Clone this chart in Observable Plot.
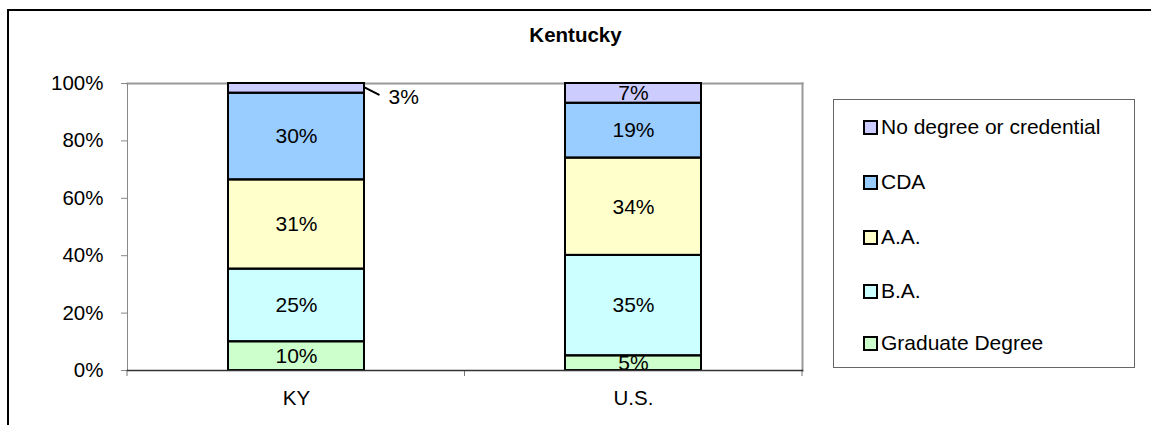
<!DOCTYPE html>
<html>
<head>
<meta charset="utf-8">
<script src="https://cdn.jsdelivr.net/npm/d3@7"></script>
<script src="https://cdn.jsdelivr.net/npm/@observablehq/plot@0.6"></script>
<style>
  html, body { margin: 0; padding: 0; background: #fff; }
  #wrap { position: relative; width: 1151px; height: 425px; overflow: hidden; font-family: "Liberation Sans", Arial, sans-serif; }
  #frame { position: absolute; left: 7px; top: 9px; width: 1300px; height: 600px; border: 2px solid #000; box-sizing: border-box; }
  #title { position: absolute; left: 0; width: 1151px; top: 22px; text-align: center; font-weight: bold; font-size: 20.5px; line-height: 26px; color: #000; }
  #chart { position: absolute; left: 0; top: 0; }
  #legend { position: absolute; left: 833px; top: 99px; width: 302px; height: 269px; border: 1px solid #666; box-sizing: border-box; }
  .item { position: absolute; left: 29px; height: 24px; display: flex; align-items: center; font-size: 21px; color: #000; white-space: nowrap; }
  .sw { width: 11px; height: 11px; border: 2px solid #000; margin-right: 3px; }
</style>
</head>
<body>
<div id="wrap">
  <div id="frame"></div>
  <div id="chart"></div>
  <div id="title">Kentucky</div>
  <div id="legend"></div>
</div>
<script>
const categories = ["KY", "U.S."];
const series = ["Graduate Degree", "B.A.", "A.A.", "CDA", "No degree or credential"];
const valuesKY = [10.0, 25.3, 31.1, 30.2, 3.4];
const valuesUS = [5.1, 35.0, 33.9, 19.1, 6.9];
const colors = ["#CCFFCC", "#CCFFFF", "#FFFFCC", "#99CCFF", "#CCCCFF"];
const yTicks = [0, 20, 40, 60, 80, 100];
const title = "Kentucky";

const data = [];
[valuesKY, valuesUS].forEach((vals, ci) => {
  vals.forEach((v, si) => data.push({cat: categories[ci], series: series[si], value: v}));
});
const isOutside = d => d.cat === "KY" && d.series === "No degree or credential";

const W = 1151, H = 425;
const font = '"Liberation Sans", Arial, sans-serif';

function boundaryTicks(index, scales, values, dims) {
  const left = dims.marginLeft, right = dims.width - dims.marginRight;
  const bottom = dims.height - dims.marginBottom;
  const n = categories.length;
  const g = d3.create("svg:g").attr("stroke", "#777").attr("stroke-width", 1);
  for (let i = 0; i <= n; i++) {
    const x = left + i * (right - left) / n;
    g.append("line").attr("x1", x).attr("x2", x).attr("y1", bottom).attr("y2", bottom + 6);
  }
  return g.node();
}

const stackOpts = (extra) => Plot.stackY({x: "cat", y: "value", z: "series", order: series, ...extra});
const label = d => Math.round(d.value) + "%";

const plot = Plot.plot({
  width: W,
  height: H,
  marginLeft: 127,
  marginRight: 349,
  marginTop: 83,
  marginBottom: 55,
  style: {fontFamily: font, background: "transparent", overflow: "visible"},
  x: {domain: categories, paddingInner: 0.597, paddingOuter: 0.2985, label: null},
  y: {domain: [0, 100], label: null},
  color: {domain: series, range: colors},
  marks: [
    Plot.frame({anchor: "top", stroke: "#999", strokeWidth: 2}),
    Plot.frame({anchor: "right", stroke: "#999", strokeWidth: 2}),
    Plot.frame({anchor: "left", stroke: "#888", strokeWidth: 1}),
    Plot.axisY(yTicks, {tickSize: 6, tickPadding: 18, tickFormat: d => d + "%", fontSize: 20.5, stroke: "#888", fill: "#000"}),
    Plot.axisX({tickSize: 0, tickPadding: 20, fontSize: 20.5, fill: "#000"}),
    boundaryTicks,
    Plot.barY(data, stackOpts({fill: "series"})),
    Plot.text(data, Plot.filter(d => !isOutside(d), stackOpts({text: label, fontSize: 21, fill: "#000"}))),
    Plot.barY(data, stackOpts({fill: "none", stroke: "#000", strokeWidth: 2})),
    Plot.frame({anchor: "bottom", stroke: "#333", strokeWidth: 1.5}),
    Plot.vector(data, Plot.filter(isOutside, stackOpts({dx: 68, dy: -1, rotate: 117, length: 16, anchor: "start", stroke: "#000", strokeWidth: 2,
      shape: {draw(ctx, l) { ctx.moveTo(0, 0); ctx.lineTo(0, -l); }}}))),
    Plot.text(data, Plot.filter(isOutside, stackOpts({text: label, dx: 92, dy: 9, textAnchor: "start", fontSize: 21, fill: "#000"})))
  ]
});
document.getElementById("chart").appendChild(plot);

const legend = document.getElementById("legend");
const legendTops = [126, 181, 236, 290, 342];
series.slice().reverse().forEach((s, i) => {
  const idx = series.indexOf(s);
  const item = document.createElement("div");
  item.className = "item";
  item.style.top = (legendTops[i] - 99 - 12) + "px";
  const sw = document.createElement("div");
  sw.className = "sw";
  sw.style.background = colors[idx];
  const t = document.createElement("span");
  t.textContent = s;
  item.appendChild(sw);
  item.appendChild(t);
  legend.appendChild(item);
});
</script>
</body>
</html>
